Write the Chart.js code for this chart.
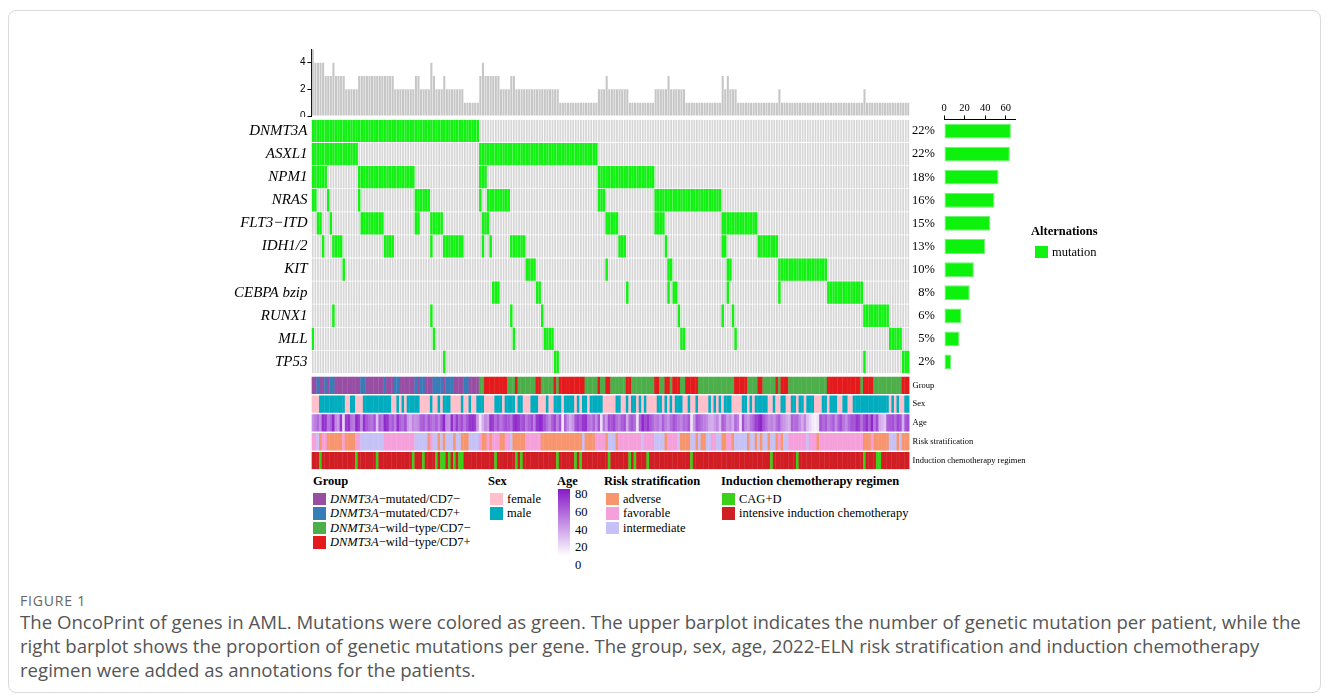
<!DOCTYPE html>
<html>
<head>
<meta charset="utf-8">
<script src="https://cdn.jsdelivr.net/npm/chart.js@4.4.1/dist/chart.umd.min.js"></script>
<style>
  body { margin:0; width:1329px; height:697px; background:#fff; position:relative; overflow:hidden;
         font-family:'Liberation Serif','Times New Roman',serif; color:#000; }
  .frame { position:absolute; left:8px; top:10px; width:1311px; height:681px; border:1px solid #dadada; border-radius:8px; }
  canvas { position:absolute; }
  .lg { position:absolute; font-size:12.5px; line-height:14.5px; white-space:nowrap; color:#000; }
  .lg b { display:block; font-size:12.5px; margin-bottom:3px; }
  .item { height:14.5px; display:flex; align-items:center; }
  .sw { width:13px; height:12.5px; margin-right:4px; flex:none; }
  .caption { position:absolute; left:20px; font-family:'Open Sans',sans-serif; color:#555; white-space:nowrap; }
</style>
</head>
<body>
<div class="frame"></div>
<canvas id="topChart" width="641" height="77" style="left:270px;top:40px"></canvas>
<canvas id="matrixChart" width="810" height="356" style="left:230px;top:117px"></canvas>
<canvas id="rightChart" width="115" height="279" style="left:905px;top:95px"></canvas>

<div class="lg" style="left:1031px;top:224px">
  <b style="margin-bottom:6px">Alternations</b>
  <div class="item" style="padding-left:4px"><span class="sw" style="background:#12f212"></span>mutation</div>
</div>

<div class="lg" style="left:313px;top:474px">
  <b>Group</b>
  <div class="item"><span class="sw" style="background:#984ea3"></span><i>DNMT3A</i>&minus;mutated/CD7&minus;</div>
  <div class="item"><span class="sw" style="background:#377eb8"></span><i>DNMT3A</i>&minus;mutated/CD7+</div>
  <div class="item"><span class="sw" style="background:#4daf4a"></span><i>DNMT3A</i>&minus;wild&minus;type/CD7&minus;</div>
  <div class="item"><span class="sw" style="background:#e41a1c"></span><i>DNMT3A</i>&minus;wild&minus;type/CD7+</div>
</div>
<div class="lg" style="left:488px;top:474px">
  <b>Sex</b>
  <div class="item" style="padding-left:2px"><span class="sw" style="background:#ffc0cb"></span>female</div>
  <div class="item" style="padding-left:2px"><span class="sw" style="background:#00adbf"></span>male</div>
</div>
<div class="lg" style="left:557px;top:474px">
  <b>Age</b>
</div>
<div style="position:absolute;left:558px;top:489px;width:12px;height:67px;background:linear-gradient(to top,#ffffff,rgb(135,25,200))"></div>
<div class="lg" style="left:575px;top:486px;line-height:17.8px">80<br>60<br>40<br>20<br>0</div>
<div class="lg" style="left:604px;top:474px">
  <b>Risk stratification</b>
  <div class="item" style="padding-left:2px"><span class="sw" style="background:#f7956f"></span>adverse</div>
  <div class="item" style="padding-left:2px"><span class="sw" style="background:#f5a0da"></span>favorable</div>
  <div class="item" style="padding-left:2px"><span class="sw" style="background:#c6c1f7"></span>intermediate</div>
</div>
<div class="lg" style="left:721px;top:474px">
  <b>Induction chemotherapy regimen</b>
  <div class="item" style="padding-left:1px"><span class="sw" style="background:#3bd11a"></span>CAG+D</div>
  <div class="item" style="padding-left:1px"><span class="sw" style="background:#d01e24"></span>intensive induction chemotherapy</div>
</div>

<div class="caption" style="top:591px;font-size:14px;letter-spacing:0.8px;color:#666">FIGURE 1</div>
<div class="caption" style="top:610px;font-size:18.6px;line-height:24px">
The OncoPrint of genes in AML. Mutations were colored as green. The upper barplot indicates the number of genetic mutation per patient, while the<br>
right barplot shows the proportion of genetic mutations per gene. The group, sex, age, 2022-ELN risk stratification and induction chemotherapy<br>
regimen were added as annotations for the patients.
</div>

<script>
const patientCount = 232;
const geneNames = ['DNMT3A', 'ASXL1', 'NPM1', 'NRAS', 'FLT3\u2212ITD', 'IDH1/2', 'KIT', 'CEBPA bzip', 'RUNX1', 'MLL', 'TP53'];
const genePercents = ['22%', '22%', '18%', '16%', '15%', '13%', '10%', '8%', '6%', '5%', '2%'];
const annoNames = ['Group', 'Sex', 'Age', 'Risk stratification', 'Induction chemotherapy regimen'];

// mutated patients per gene, [first, last] column (patients sorted like the figure)
const dnmt3aMut = [[0, 64]];
const asxl1Mut = [[0, 17], [65, 110]];
const npm1Mut = [[0, 5], [18, 39], [65, 67], [111, 132]];
const nrasMut = [[0, 1], [6, 6], [18, 18], [40, 45], [65, 65], [68, 76], [111, 113], [133, 158]];
const flt3Mut = [[2, 3], [7, 7], [19, 27], [40, 41], [46, 50], [66, 68], [114, 118], [133, 136], [159, 172]];
const idhMut = [[4, 4], [8, 11], [28, 31], [46, 46], [51, 58], [66, 66], [69, 69], [77, 82], [119, 121], [137, 137], [159, 160], [173, 180]];
const kitMut = [[12, 12], [83, 86], [114, 114], [138, 139], [161, 162], [181, 199]];
const cebpaMut = [[70, 72], [87, 88], [122, 122], [138, 138], [140, 141], [161, 161], [181, 181], [200, 213]];
const runx1Mut = [[8, 8], [46, 46], [77, 77], [89, 89], [142, 142], [159, 159], [163, 163], [214, 223]];
const mllMut = [[0, 0], [47, 47], [78, 78], [90, 93], [143, 144], [164, 164], [224, 228]];
const tp53Mut = [[51, 51], [94, 95], [214, 214], [229, 231]];

// annotation tracks as [category, run length]
const groupRuns = [['mn',2],['mp',1],['mn',2],['mp',1],['mn',1],['mp',2],['mn',10],['mp',2],['mn',7],['mp',1],['mn',3],['mp',2],
  ['mn',6],['mp',1],['mn',1],['mp',2],['mn',3],['mp',4],['mn',1],['mp',3],['mn',4],['mp',2],['mn',4],
  ['wn',2],['wp',9],['wn',3],['wp',1],['wn',7],['wp',2],['wn',5],['wp',1],['wn',1],['wp',10],['wn',5],['wp',1],['wn',2],
  ['wp',2],['wn',6],['wp',2],['wn',9],['wp',2],['wn',2],['wp',2],['wn',1],['wp',3],['wn',2],['wp',5],['wn',14],['wp',5],
  ['wn',4],['wp',2],['wn',5],['wp',1],['wn',1],['wp',3],['wn',15],['wp',13],['wn',1],['wp',4],['wn',11],['wp',3]];
const sexRuns = [['F',3],['M',10],['F',2],['M',2],['F',3],['M',11],['F',2],['M',1],['F',1],['M',1],['F',1],['M',5],['F',4],
  ['M',1],['F',2],['M',1],['F',1],['M',3],['F',4],['M',1],['F',2],['M',1],['F',2],['M',3],['F',4],['M',3],['F',1],['M',4],
  ['F',1],['M',2],['F',3],['M',3],['F',3],['M',1],['F',2],['M',3],['F',1],['M',4],['F',1],['M',1],['F',1],['M',2],['F',1],
  ['M',5],['F',5],['M',2],['F',2],['M',1],['F',1],['M',2],['F',1],['M',1],['F',1],['M',1],['F',4],['M',2],['F',1],['M',1],
  ['F',1],['M',1],['F',1],['M',3],['F',2],['M',1],['F',2],['M',1],['F',4],['M',1],['F',1],['M',1],['F',1],['M',1],['F',1],
  ['M',3],['F',4],['M',2],['F',1],['M',1],['F',1],['M',5],['F',2],['M',1],['F',2],['M',2],['F',2],['M',2],['F',1],['M',2],
  ['F',1],['M',3],['F',3],['M',2],['F',1],['M',3],['F',2],['M',2],['F',2],['M',14],['F',1],['M',1],['F',1],['M',1],['F',2],['M',2]];
const riskRuns = [['fav',2],['int',1],['adv',1],['fav',2],['adv',6],['fav',1],['adv',4],['fav',2],['int',9],['fav',12],['int',5],
  ['adv',1],['fav',1],['int',2],['adv',1],['int',1],['adv',1],['int',3],['adv',1],['int',2],['adv',3],['int',4],['fav',1],
  ['adv',2],['fav',1],['adv',1],['fav',3],['adv',2],['fav',2],['int',1],['adv',5],['fav',6],['adv',16],['int',1],['adv',4],
  ['fav',4],['adv',1],['int',3],['adv',1],['fav',9],['int',1],['fav',4],['int',4],['adv',1],['fav',4],['int',1],['adv',4],
  ['int',2],['adv',1],['int',1],['adv',2],['int',2],['fav',2],['int',2],['adv',2],['fav',2],['adv',1],['int',5],['adv',1],
  ['int',2],['adv',1],['int',1],['adv',1],['int',2],['adv',1],['int',2],['adv',1],['fav',1],['adv',1],['int',2],['fav',7],
  ['int',1],['fav',3],['adv',1],['fav',17],['adv',3],['fav',1],['adv',6],['int',3],['adv',1],['int',1],['adv',3]];
// patients given CAG+D, all others intensive induction chemotherapy
const cagdPatients = [3, 17, 25, 39, 43, 48, 50, 51, 53, 55, 57, 58, 71, 79, 81, 95, 102, 104, 115, 123, 125, 130, 147, 178, 188, 214, 219, 220];
const ageValues = [
  38, 45, 52, 40, 72, 70, 48, 55, 74, 42, 36, 70,
  15, 68, 72, 50, 46, 75, 66, 40, 72, 58, 52, 48,
  60, 22, 55, 48, 74, 70, 52, 58, 45, 72, 56, 50,
  62, 35, 30, 42, 38, 40, 55, 58, 46, 60, 52, 48,
  56, 44, 60, 75, 40, 38, 72, 50, 68, 54, 62, 48,
  58, 70, 72, 66, 35, 10, 28, 40, 36, 70, 66, 52,
  60, 48, 55, 62, 58, 50, 70, 74, 68, 58, 62, 48,
  55, 62, 45, 70, 76, 72, 60, 50, 42, 56, 64, 45,
  60, 8, 55, 40, 30, 38, 60, 65, 58, 70, 72, 50,
  45, 56, 40, 60, 12, 48, 36, 62, 58, 64, 50, 45,
  56, 62, 30, 52, 58, 50, 10, 55, 75, 62, 70, 58,
  52, 45, 48, 40, 56, 44, 38, 50, 60, 55, 48, 42,
  52, 50, 58, 10, 36, 60, 55, 48, 45, 40, 30, 28,
  36, 42, 25, 56, 50, 35, 40, 30, 52, 45, 12, 62,
  40, 35, 48, 55, 66, 72, 76, 58, 50, 40, 45, 38,
  50, 56, 40, 36, 30, 28, 55, 50, 52, 40, 30, 42,
  22, 15, 8, 5, 10, 60, 52, 58, 45, 50, 56, 40,
  55, 62, 48, 40, 52, 60, 58, 70, 65, 50, 62, 72,
  55, 75, 48, 62, 30, 25, 20, 55, 58, 62, 50, 65,
  60, 28, 58, 62];

const groupColors = {mn: '#984ea3', mp: '#377eb8', wn: '#4daf4a', wp: '#e41a1c'};
const sexColors = {F: '#ffc0cb', M: '#00adbf'};
const riskColors = {adv: '#f7956f', fav: '#f5a0da', int: '#c6c1f7'};
const mutGreen = '#12f212';

Chart.defaults.animation = false;
Chart.defaults.font.family = "'Liberation Serif', 'Times New Roman', serif";
Chart.defaults.color = '#000';

const patientIds = Array.from({length: patientCount}, (_, i) => 'P' + (i + 1));

function expandRuns(runs) {
  const out = [];
  runs.forEach(([key, count]) => { for (let i = 0; i < count; i++) out.push(key); });
  return out;
}

// keep axes from reserving room for half labels, so the plot areas line up exactly
function noPad(s) { s.paddingTop = 0; s.paddingBottom = 0; s.paddingLeft = 0; s.paddingRight = 0; }

const geneMutRuns = [dnmt3aMut, asxl1Mut, npm1Mut, nrasMut, flt3Mut, idhMut, kitMut, cebpaMut, runx1Mut, mllMut, tp53Mut];
const mutMatrix = geneMutRuns.map(runs => {
  const row = new Array(patientCount).fill(0);
  runs.forEach(([a, b]) => { for (let i = a; i <= b; i++) row[i] = 1; });
  return row;
});
const perPatient = patientIds.map((_, i) => mutMatrix.reduce((s, row) => s + row[i], 0));
const perGene = mutMatrix.map(row => row.reduce((s, v) => s + v, 0));

function ageColor(v) {
  const t = Math.max(0, Math.min(1, v / 80));
  const r = Math.round(255 - t * (255 - 135));
  const g = Math.round(255 - t * (255 - 25));
  const b = Math.round(255 - t * (255 - 200));
  return `rgb(${r},${g},${b})`;
}

const annoColors = [
  expandRuns(groupRuns).map(k => groupColors[k]),
  expandRuns(sexRuns).map(k => sexColors[k]),
  ageValues.map(ageColor),
  expandRuns(riskRuns).map(k => riskColors[k]),
  patientIds.map((_, i) => cagdPatients.includes(i) ? '#3bd11a' : '#d01e24')
];

// vertical layout of the matrix (in pixel-like units from the first row top)
const ROW_STEP = 23.1, ROW_H = 22.3;
const ANNO_TOP = 257.2, ANNO_STEP = 18.8, ANNO_H = 17.3;
const MATRIX_SPAN = 350;
const geneMid = g => g * ROW_STEP + 0.3 + ROW_H / 2;
const annoMid = k => ANNO_TOP + k * ANNO_STEP + ANNO_H / 2;

// top barplot: mutations per patient
new Chart(document.getElementById('topChart'), {
  type: 'bar',
  data: {
    labels: patientIds,
    datasets: [{ data: perPatient, backgroundColor: '#c6c6c6', categoryPercentage: 0.8, barPercentage: 1 }]
  },
  options: {
    responsive: false,
    layout: { padding: { top: 9.3, right: 1.4, bottom: 1, left: 0 } },
    plugins: { legend: { display: false }, tooltip: { enabled: false } },
    scales: {
      x: { display: false },
      y: {
        min: 0, max: 5,
        afterFit: s => { s.width = 41.5; noPad(s); },
        ticks: { stepSize: 2, includeBounds: false, padding: 2, font: { family: "'Liberation Sans', Arial, sans-serif", size: 10 } },
        grid: { drawOnChartArea: false, tickLength: 4, color: '#000' },
        border: { display: true, color: '#000' }
      }
    }
  }
});

// oncoprint matrix + annotation tracks
const matrixSets = [];
geneNames.forEach((name, gi) => {
  const y0 = gi * ROW_STEP + 0.3, y1 = y0 + ROW_H;
  matrixSets.push({
    label: name + ' mutation',
    data: mutMatrix[gi].map(v => v ? [y0, y1] : null),
    backgroundColor: mutGreen, categoryPercentage: 0.96, barPercentage: 1, grouped: false, order: 1
  });
  matrixSets.push({
    label: name,
    data: patientIds.map(() => [y0, y1]),
    backgroundColor: '#d6d6d6', categoryPercentage: 0.68, barPercentage: 1, grouped: false, order: 2
  });
});
annoNames.forEach((name, k) => {
  const y0 = ANNO_TOP + k * ANNO_STEP, y1 = y0 + ANNO_H;
  matrixSets.push({
    label: name,
    data: patientIds.map(() => [y0, y1]),
    backgroundColor: annoColors[k], categoryPercentage: 1, barPercentage: 1.15, grouped: false, order: 3
  });
});

new Chart(document.getElementById('matrixChart'), {
  type: 'bar',
  data: { labels: patientIds, datasets: matrixSets },
  options: {
    responsive: false,
    layout: { padding: { top: 2.5, right: 0, bottom: 3.5, left: 0 } },
    plugins: { legend: { display: false }, tooltip: { enabled: false } },
    scales: {
      x: { display: false },
      y: {
        type: 'linear', reverse: true, min: 0, max: MATRIX_SPAN, position: 'left',
        afterFit: s => { s.width = 81.5; noPad(s); },
        afterBuildTicks: s => { s.ticks = geneNames.map((_, g) => ({ value: geneMid(g) })); },
        ticks: { autoSkip: false, padding: 4, font: { size: 15, style: 'italic' }, callback: (v, i) => geneNames[i] },
        grid: { display: false, drawTicks: false },
        border: { display: false }
      },
      y2: {
        type: 'linear', reverse: true, min: 0, max: MATRIX_SPAN, position: 'right',
        afterFit: s => { s.width = 130.4; noPad(s); },
        afterBuildTicks: s => { s.ticks = annoNames.map((_, k) => ({ value: annoMid(k) })); },
        ticks: { autoSkip: false, padding: 3, font: { size: 8.5 }, callback: (v, i) => annoNames[i] },
        grid: { display: false, drawTicks: false },
        border: { display: false }
      }
    }
  }
});

// right barplot: mutated patients per gene
new Chart(document.getElementById('rightChart'), {
  type: 'bar',
  data: {
    labels: geneNames,
    datasets: [{
      data: perGene, backgroundColor: '#0cf20c', borderColor: '#74ee74', borderWidth: 1, borderSkipped: false,
      categoryPercentage: 1, barPercentage: 0.64
    }]
  },
  options: {
    responsive: false,
    indexAxis: 'y',
    layout: { padding: { top: 0, right: 5, bottom: 0.5, left: 0 } },
    plugins: { legend: { display: false }, tooltip: { enabled: false } },
    scales: {
      x: {
        position: 'top', min: 0, max: 69,
        afterFit: s => { s.height = 24.5; noPad(s); },
        ticks: { stepSize: 20, includeBounds: false, padding: 1, font: { size: 10.5 } },
        grid: { drawOnChartArea: false, tickLength: 4, color: '#000' },
        border: { display: true, color: '#000' }
      },
      y: {
        afterFit: s => { s.width = 39; noPad(s); },
        ticks: { padding: 9, font: { size: 12.5 }, callback: (v, i) => genePercents[i] },
        grid: { display: false, drawTicks: false },
        border: { display: false }
      }
    }
  }
});
</script>
</body>
</html>
